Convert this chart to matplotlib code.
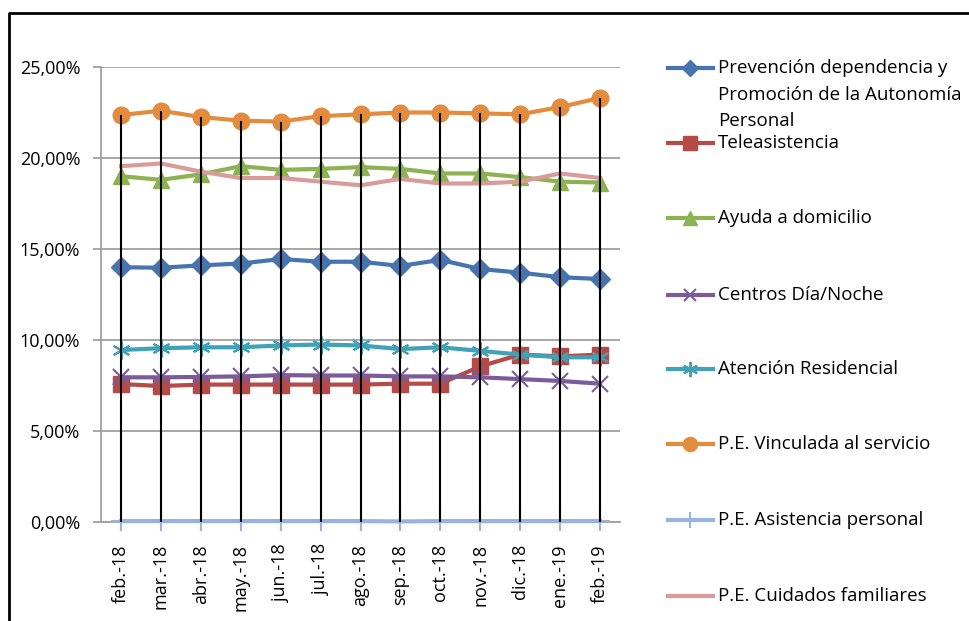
import numpy as np
import matplotlib.pyplot as plt
from matplotlib.lines import Line2D
from matplotlib.ticker import FuncFormatter

plt.rcParams['font.family'] = ['Open Sans', 'DejaVu Sans']

# meses (eje de categorias)
meses = ["feb.-18", "mar.-18", "abr.-18", "may.-18", "jun.-18", "jul.-18", "ago.-18",
         "sep.-18", "oct.-18", "nov.-18", "dic.-18", "ene.-19", "feb.-19"]

# porcentaje de cada prestacion sobre el total (%)
prevencion = [14.0, 13.97, 14.1, 14.2, 14.45, 14.3, 14.3, 14.07, 14.4, 13.9, 13.7, 13.45, 13.35]
teleasistencia = [7.58, 7.47, 7.55, 7.55, 7.55, 7.55, 7.55, 7.6, 7.6, 8.55, 9.2, 9.1, 9.2]
ayuda_domicilio = [19.0, 18.8, 19.1, 19.55, 19.35, 19.4, 19.5, 19.4, 19.15, 19.15, 18.95, 18.7, 18.65]
centros_dia = [7.95, 7.95, 7.97, 8.0, 8.07, 8.05, 8.05, 8.0, 8.0, 7.95, 7.85, 7.75, 7.6]
residencial = [9.45, 9.55, 9.6, 9.6, 9.7, 9.75, 9.7, 9.5, 9.6, 9.4, 9.2, 9.05, 9.05]
vinculada = [22.36, 22.6, 22.25, 22.05, 22.0, 22.3, 22.4, 22.5, 22.5, 22.45, 22.4, 22.8, 23.3]
asistencia = [0.05, 0.05, 0.05, 0.05, 0.05, 0.05, 0.05, 0.03, 0.05, 0.05, 0.05, 0.05, 0.05]
cuidados = [19.55, 19.7, 19.25, 18.9, 18.9, 18.7, 18.5, 18.85, 18.6, 18.6, 18.7, 19.15, 18.9]

series = [
    ("Prevención dependencia y\nPromoción de la Autonomía\nPersonal", prevencion, '#4674ae', 'D', 10),
    ("Teleasistencia", teleasistencia, '#b64a46', 's', 12),
    ("Ayuda a domicilio", ayuda_domicilio, '#8db251', '^', 12),
    ("Centros Día/Noche", centros_dia, '#7a5c9b', 'x', 11),
    ("Atención Residencial", residencial, '#3fa2b6', (6, 2, 0), 13),
    ("P.E. Vinculada al servicio", vinculada, '#e38c3e', 'o', 12),
    ("P.E. Asistencia personal", asistencia, '#98b4de', '+', 14),
    ("P.E. Cuidados familiares", cuidados, '#d99c9b', None, 0),
]

def grosor_marcador(m):
    return 1.5 if m in ('x', '+') or isinstance(m, tuple) else 1

fig = plt.figure(figsize=(9.69, 6.21), dpi=100, facecolor="white")
ax = fig.add_axes([101/969, 1-522/621, (620-101)/969, (522-67)/621])

x = np.arange(len(meses))
for nombre, vals, color, marker, ms in series:
    ax.plot(x, vals, color=color, lw=3, marker=marker, markersize=ms,
            markeredgewidth=grosor_marcador(marker), zorder=3, clip_on=False)

# lineas de division desde el maximo hasta el eje
tope = np.max(np.array([s[1] for s in series]), axis=0)
ax.vlines(x, 0, tope, colors='black', lw=1.5, zorder=5)

ax.set_xlim(-0.5, len(meses) - 0.5)
ax.set_ylim(0, 25)
ax.set_yticks(np.arange(0, 26, 5))
ax.yaxis.set_major_formatter(FuncFormatter(lambda v, p: f"{v:.2f}%".replace('.', ',')))
ax.grid(axis='y', color='#a0a0a0', lw=1.3, zorder=0)
ax.set_xticks(x)
ax.set_xticklabels(meses, rotation=90, fontsize=13)
ax.tick_params(axis='x', length=0, pad=16)
ax.tick_params(axis='y', length=6, color='#a0a0a0', width=1.3, labelsize=13, pad=9)
for s in ('top', 'right'):
    ax.spines[s].set_visible(False)
for s in ('left', 'bottom'):
    ax.spines[s].set_color('#a0a0a0')
    ax.spines[s].set_linewidth(1.3)
ax.set_axisbelow(True)

# leyenda a la derecha
leg_y = [68, 143, 218, 295, 369, 444, 520, 596]
for (nombre, vals, color, marker, ms), py in zip(series, leg_y):
    yf = 1 - py/621
    fig.add_artist(Line2D([668/969, 713/969], [yf, yf], color=color, lw=3,
                          transform=fig.transFigure))
    if marker is not None:
        fig.add_artist(Line2D([690/969], [yf], color=color, marker=marker, markersize=ms*0.85,
                              markeredgewidth=grosor_marcador(marker),
                              transform=fig.transFigure))
    if '\n' in nombre:
        fig.text(718/969, yf + 9/621, nombre, fontsize=13.5, va='top', ha='left',
                 linespacing=1.62)
    else:
        fig.text(718/969, yf, nombre, fontsize=13.5, va='center', ha='left')

# marco exterior
fig.add_artist(Line2D([9/969, 9/969, 1.0], [0, 1-13/621, 1-13/621], color='black', lw=2,
                      transform=fig.transFigure))

fig.savefig("out.png", dpi=100, facecolor="white")
